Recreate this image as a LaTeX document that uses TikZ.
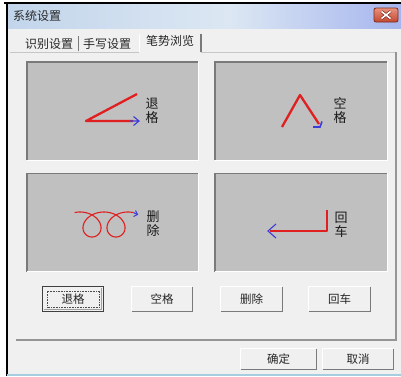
\documentclass[tikz,border=0pt]{standalone}
\usepackage{fontspec}
\setmainfont{Noto Sans CJK SC}
\usetikzlibrary{arrows.meta,calc}
\definecolor{winbg}{HTML}{F0F0F0}
\definecolor{boxgray}{HTML}{C0C0C0}
\definecolor{edgedark}{HTML}{7A7A7A}
\definecolor{edgemid}{HTML}{A0A0A0}
\definecolor{penred}{HTML}{E02020}
\definecolor{penblue}{HTML}{3C3CD8}
\definecolor{titleA}{HTML}{C2D5EB}
\definecolor{titleB}{HTML}{DCE7F3}
\definecolor{closeA}{HTML}{E9927E}
\definecolor{closeB}{HTML}{C3472F}
\definecolor{closeE}{HTML}{7E2A1C}
\definecolor{bottomline}{HTML}{A6CDE0}
\newcommand\raisededges[1]{%
  \draw[white,line width=1pt] (#1.south west) -- (#1.north west) -- (#1.north east);
  \draw[edgedark,line width=1pt] (#1.north east) -- (#1.south east) -- (#1.south west);}
\newcommand\sunkenedges[1]{%
  \draw[edgedark,line width=1.4pt] (#1.south west) -- (#1.north west) -- (#1.north east);
  \draw[white,line width=1.2pt] (#1.north east) -- (#1.south east) -- (#1.south west);}
\tikzset{
  ui/.style={font=\fontsize{12}{12}\selectfont, inner sep=0pt, text=black!85},
  glabel/.style={font=\fontsize{13}{14}\selectfont, inner sep=0pt, align=center, text=black!90},
  btn/.style={fill=winbg, inner sep=0pt, font=\fontsize{11.5}{12}\selectfont, text=black!85},
  gbox/.style={fill=boxgray, inner sep=0pt, minimum height=98pt},
  redpen/.style={penred, line width=2.3pt, line join=round},
  bluepen/.style={penblue, line width=1.1pt},
}
\begin{document}
\begin{tikzpicture}[x=1pt,y=-1pt]
\useasboundingbox (0,0) rectangle (401,376);
\fill[white] (0,0) rectangle (401,376);
% window
\fill[winbg] (7,3) rectangle (401,376);
\shade[left color=titleA, right color=titleB] (7,4) rectangle (230,28);
\shade[left color=titleB, right color=titleA!85!blue] (230,4) rectangle (401,28);
\draw[black,line width=1.5pt] (4,3) -- (401,3);
\draw[black,line width=1.2pt] (7,3) -- (7,376);
\fill[bottomline] (7,374) rectangle (401,376);
\node[ui, anchor=west] (title) at (13,16) {系统设置};
% close button
\node[draw=closeE, line width=0.8pt, rounded corners=2pt, top color=closeA, bottom color=closeB,
      minimum width=24pt, minimum height=14pt, inner sep=0pt] (close) at (386,15) {};
\draw[closeE,line width=3pt] ($(close.center)+(-4.5,-3.5)$) -- ($(close.center)+(4.5,3.5)$)
  ($(close.center)+(-4.5,3.5)$) -- ($(close.center)+(4.5,-3.5)$);
\draw[white,line width=1.6pt] ($(close.center)+(-4.5,-3.5)$) -- ($(close.center)+(4.5,3.5)$)
  ($(close.center)+(-4.5,3.5)$) -- ($(close.center)+(4.5,-3.5)$);
% tabs
\node[ui] (tab1) at (49,44) {识别设置};
\node[ui] (tab2) at (107,44) {手写设置};
\node[ui] (tab3) at (170,41) {笔势浏览};
\draw[edgedark,line width=0.9pt] (78,36) -- (78,51);
\draw[edgedark,line width=1.1pt] (201,34) -- (201,52);
\draw[white,line width=1pt] (139,34) -- (139,52);
% panel
\draw[edgemid!60!white,line width=0.8pt] (10,52) -- (139,52);
\draw[edgemid!60!white,line width=0.8pt] (201,52) -- (396,52);
\draw[edgedark!80,line width=1.2pt] (396,52) -- (396,340) -- (16,340);
% gesture boxes
\node[gbox, minimum width=171pt] (g1) at (112.5,111) {};
\node[gbox, minimum width=172pt] (g2) at (301,111) {};
\node[gbox, minimum width=171pt] (g3) at (112.5,222.5) {};
\node[gbox, minimum width=172pt] (g4) at (301,222.5) {};
\sunkenedges{g1}\sunkenedges{g2}\sunkenedges{g3}\sunkenedges{g4}
% gesture 1: back space
\draw[redpen] (137,94) -- (86,121) -- (133,121);
\draw[bluepen] (130,121) -- (139,121) (133.5,116.5) -- (139,121) -- (133.5,125.5);
\node[glabel] (l1) at (152,111) {退\\格};
% gesture 2: space
\draw[redpen] (282,127) -- (300,95) -- (319,124);
\draw[penblue,line width=1.6pt] (313,127) -- (320,127) -- (322,121.5);
\node[glabel] (l2) at (340,111) {空\\格};
% gesture 3: delete
\draw[penred,line width=1.1pt] plot[domain=-0.3:12.87, samples=240, smooth]
  ({80+3.82*\x+14.5*sin(\x r)}, {224.5-12.5*cos(\x r)});
\draw[bluepen] (133.5,212.6) .. controls (135.5,213) .. (137.5,214.5);
\draw[bluepen] (133.5,216.5) -- (137.5,214.5) -- (135.5,210.5);
\node[glabel] (l3) at (153,224) {删\\除};
% gesture 4: enter
\draw[redpen] (327,210) -- (327,231) -- (270,231);
\draw[bluepen] (276,224) -- (268,231) -- (276,238);
\node[glabel] (l4) at (341,224.5) {回\\车};
% buttons
\node[btn, minimum width=60pt, minimum height=24pt] (b1) at (73,299) {退格};
\node[btn, minimum width=60pt, minimum height=24pt] (b2) at (162,299) {空格};
\node[btn, minimum width=61pt, minimum height=24pt] (b3) at (251.5,299) {删除};
\node[btn, minimum width=61pt, minimum height=24pt] (b4) at (339.5,299) {回车};
\node[btn, minimum width=75pt, minimum height=20pt] (ok) at (278.5,359) {确定};
\node[btn, minimum width=70pt, minimum height=20pt] (cancel) at (358,359) {取消};
\raisededges{b2}\raisededges{b3}\raisededges{b4}\raisededges{ok}\raisededges{cancel}
\draw[black!75,line width=1.2pt] (b1.south west) rectangle (b1.north east);
\draw[edgemid,line width=0.8pt] ($(b1.south west)+(1.5,-1.5)$) -- ($(b1.south east)+(-1.5,-1.5)$) -- ($(b1.north east)+(-1.5,1.5)$);
\draw[black!70,densely dotted,line width=0.6pt] ($(b1.south west)+(4,-4)$) rectangle ($(b1.north east)+(-4,4)$);
\end{tikzpicture}
\end{document}
